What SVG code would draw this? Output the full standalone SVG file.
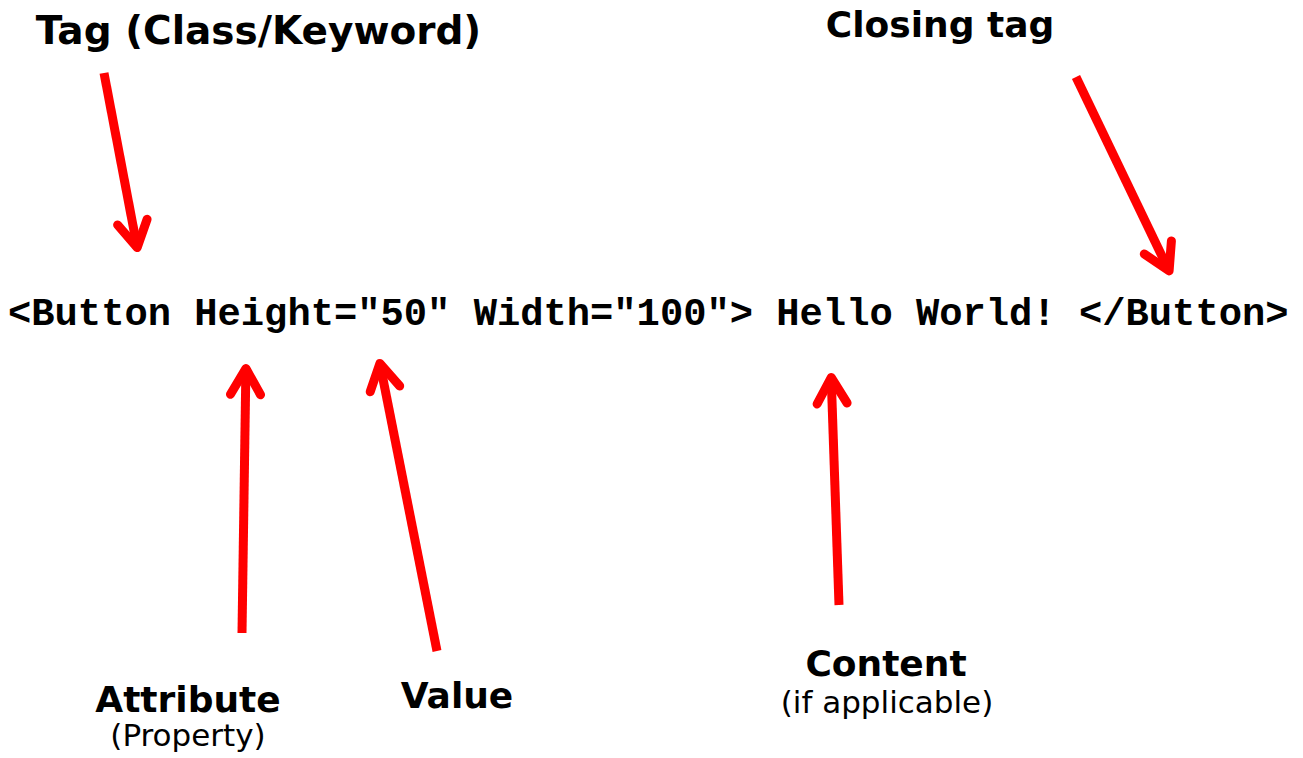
<svg xmlns="http://www.w3.org/2000/svg" width="1303" height="758" viewBox="0 0 1303 758">
  <style>
    .code { font-family: "Liberation Mono", "Courier New", monospace; font-weight: bold; font-size: 38.8px; fill: #000; }
    .label { font-family: "DejaVu Sans", Verdana, sans-serif; font-weight: bold; font-size: 36px; fill: #000; text-anchor: middle; }
    .sub { font-family: "DejaVu Sans", Verdana, sans-serif; font-size: 31px; fill: #000; text-anchor: middle; }
    .shaft { fill: none; stroke: #ff0000; stroke-width: 9; stroke-linecap: butt; }
    .head { fill: none; stroke: #ff0000; stroke-width: 9; stroke-linecap: round; stroke-linejoin: round; }
  </style>
  <rect width="1303" height="758" fill="#ffffff"/>

  <!-- markup line being annotated -->
  <g id="code">
    <text class="code" x="8" y="325">&lt;Button Height="50" Width="100"&gt; Hello World! &lt;/Button&gt;</text>
  </g>

  <g id="tag-label">
    <text class="label" x="258.5" y="44" style="font-size:39px">Tag (Class/Keyword)</text>
  </g>
  <g id="closing-tag-label">
    <text class="label" x="940" y="37">Closing tag</text>
  </g>
  <g id="attribute-label">
    <text class="label" x="188" y="712">Attribute</text>
    <text class="sub" x="188" y="746">(Property)</text>
  </g>
  <g id="value-label">
    <text class="label" x="457" y="708">Value</text>
  </g>
  <g id="content-label">
    <text class="label" x="886" y="676">Content</text>
    <text class="sub" x="887" y="713">(if applicable)</text>
  </g>

  <!-- pointer arrows: straight shaft plus open V head -->
  <g id="connectors">
    <path class="shaft" d="M104 73 L137.2 247.6"/>
    <path class="head" d="M147.1 219.3 L137.2 247.6 L117.6 224.9"/>

    <path class="shaft" d="M1076 77 L1169.1 270.9"/>
    <path class="head" d="M1171.4 241 L1169.1 270.9 L1144.3 254"/>

    <path class="shaft" d="M242 633 L245.9 368.5"/>
    <path class="head" d="M230.5 394.3 L245.9 368.5 L260.5 394.7"/>

    <path class="shaft" d="M437 651 L379.9 363.4"/>
    <path class="head" d="M370.2 391.8 L379.9 363.4 L399.7 386"/>

    <path class="shaft" d="M839 605 L831.2 377.5"/>
    <path class="head" d="M817.1 404 L831.2 377.5 L847.1 403"/>
  </g>
</svg>
